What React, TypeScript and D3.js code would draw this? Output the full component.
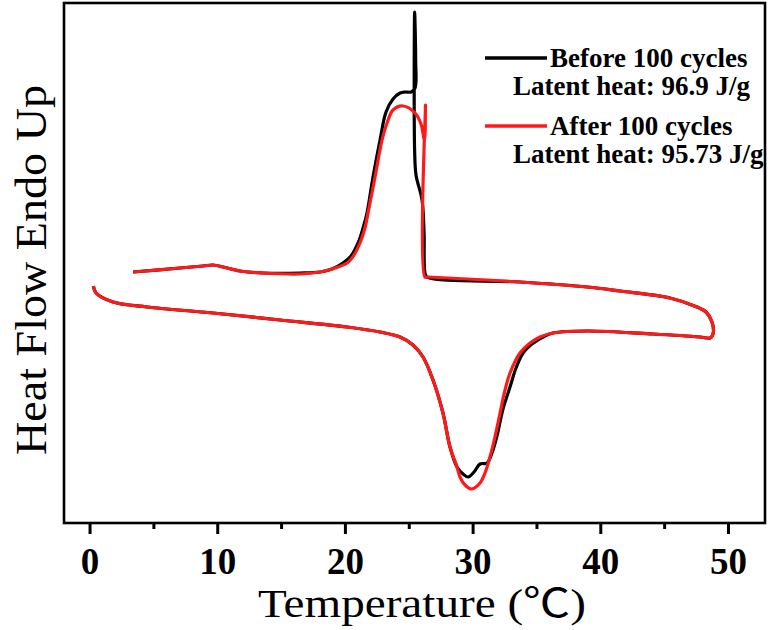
import { useEffect, useRef } from 'react'
import * as d3 from 'd3'

// [temperature (°C), heat flow (a.u.)], heating then cooling
const beforeCycles: [number, number][] = [
  [0.26, 2.37], [0.47, 2.3], [1.8, 2.21], [4.46, 2.16], [9.63, 2.1], [14.88, 2.03],
  [20.13, 1.96], [22.71, 1.91], [24.28, 1.86], [25.29, 1.78], [26.08, 1.66], [26.86, 1.43],
  [27.64, 1.1], [28.19, 0.76], [28.74, 0.56], [29.21, 0.49], [29.6, 0.46], [30.07, 0.51],
  [30.54, 0.59], [31.09, 0.6], [31.48, 0.7], [31.87, 0.87], [32.34, 1.14], [32.89, 1.36],
  [33.36, 1.55], [33.91, 1.7], [34.61, 1.79], [35.63, 1.87], [36.26, 1.9], [38.94, 1.92],
  [44.09, 1.89], [47.77, 1.86], [48.55, 1.85], [48.79, 1.89],
  [48.71, 2.01], [48.24, 2.11], [47.53, 2.16], [45.42, 2.25], [41.5, 2.32], [38.94, 2.36],
  [33.67, 2.41], [26.39, 2.46], [26.23, 2.5], [26.16, 2.9], [26.0, 3.23], [25.53, 3.48],
  [25.42, 3.73], [25.42, 5.11], [25.5, 4.63], [25.45, 4.35], [25.14, 4.31], [24.67, 4.31],
  [24.28, 4.3], [23.73, 4.24], [23.18, 4.11], [22.71, 3.83], [22.16, 3.46], [21.69, 3.1],
  [21.38, 2.95], [20.99, 2.8], [20.44, 2.67], [19.81, 2.6], [18.95, 2.54], [18.01, 2.51],
  [16.44, 2.5], [13.55, 2.5], [11.75, 2.52], [10.42, 2.56], [9.63, 2.58], [8.85, 2.57],
  [7.05, 2.55], [3.37, 2.51]
]

const afterCycles: [number, number][] = [
  [0.26, 2.37], [0.47, 2.3], [1.8, 2.21], [4.46, 2.16], [9.63, 2.1], [14.88, 2.03],
  [20.13, 1.96], [22.71, 1.91], [24.28, 1.86], [25.29, 1.78], [26.08, 1.66], [26.86, 1.43],
  [27.64, 1.1], [28.19, 0.76], [28.74, 0.56], [28.97, 0.46], [29.37, 0.38], [29.89, 0.34],
  [30.54, 0.4], [30.93, 0.5], [31.32, 0.66], [31.71, 0.86], [32.11, 1.1], [32.5, 1.33],
  [32.89, 1.5], [33.67, 1.7], [34.46, 1.8], [35.24, 1.86], [36.26, 1.9], [38.94, 1.92],
  [44.09, 1.89], [47.77, 1.86], [48.55, 1.85], [48.79, 1.89],
  [48.71, 2.01], [48.24, 2.11], [47.53, 2.16], [45.42, 2.25], [41.5, 2.32], [38.94, 2.36],
  [33.67, 2.41], [26.47, 2.46], [26.23, 2.46], [26.27, 4.18], [26.19, 3.83], [25.92, 3.99],
  [25.45, 4.1], [24.51, 4.17], [23.73, 4.13], [23.26, 4.0], [22.87, 3.83], [22.32, 3.46],
  [21.77, 3.1], [21.53, 2.95], [21.14, 2.8], [20.67, 2.68], [20.13, 2.6], [18.95, 2.54],
  [18.01, 2.51], [16.44, 2.49], [13.55, 2.5], [11.75, 2.52], [10.42, 2.56], [9.63, 2.58],
  [8.85, 2.57], [7.05, 2.55], [3.37, 2.51]
]

const majorTicks = [0, 10, 20, 30, 40, 50]
const minorTicks = [5, 15, 25, 35, 45]

const legendItems = [
  { name: 'Before 100 cycles', heat: 'Latent heat: 96.9 J/g', color: '#000000' },
  { name: 'After 100 cycles', heat: 'Latent heat: 95.73 J/g', color: '#ff1a1a' }
]

const W = 774
const H = 630
const serif = '"Liberation Serif", "Times New Roman", "Noto Sans CJK SC", serif'

export default function App() {
  const svgRef = useRef<SVGSVGElement>(null)

  useEffect(() => {
    if (!svgRef.current) return
    const svg = d3.select(svgRef.current)
    svg.selectAll('*').remove()

    const left = 64, right = 765, top = 3, bottom = 523

    const x = d3.scaleLinear().domain([-2.04, 52.86]).range([left, right])
    const y = d3.scaleLinear().domain([0, 5.2]).range([bottom, top])

    // frame
    svg.append('rect')
      .attr('x', left).attr('y', top)
      .attr('width', right - left).attr('height', bottom - top)
      .attr('fill', 'none').attr('stroke', '#000').attr('stroke-width', 2.6)

    // ticks
    svg.selectAll('.major')
      .data(majorTicks)
      .enter()
      .append('line')
      .attr('x1', d => x(d)).attr('x2', d => x(d))
      .attr('y1', bottom).attr('y2', bottom + 11)
      .attr('stroke', '#000').attr('stroke-width', 3)

    svg.selectAll('.minor')
      .data(minorTicks)
      .enter()
      .append('line')
      .attr('x1', d => x(d)).attr('x2', d => x(d))
      .attr('y1', bottom).attr('y2', bottom + 6)
      .attr('stroke', '#000').attr('stroke-width', 3)

    svg.selectAll('.tlabel')
      .data(majorTicks)
      .enter()
      .append('text')
      .attr('x', d => x(d)).attr('y', 574)
      .attr('text-anchor', 'middle')
      .style('font-family', serif)
      .style('font-weight', 'bold')
      .style('font-size', '37px')
      .text(d => d)

    // axis titles
    svg.append('text')
      .attr('x', 258).attr('y', 617)
      .attr('textLength', 328)
      .attr('lengthAdjust', 'spacingAndGlyphs')
      .style('font-family', serif)
      .style('font-size', '40px')
      .text('Temperature (℃)')

    svg.append('text')
      .attr('transform', `translate(46, 455) rotate(-90)`)
      .attr('textLength', 370)
      .attr('lengthAdjust', 'spacingAndGlyphs')
      .style('font-family', serif)
      .style('font-size', '45px')
      .text('Heat Flow Endo Up')

    // curves
    const line = d3.line<[number, number]>()
      .x(d => x(d[0]))
      .y(d => y(d[1]))
      .curve(d3.curveCatmullRom.alpha(0.5))

    svg.append('path')
      .datum(beforeCycles)
      .attr('d', line)
      .attr('fill', 'none')
      .attr('stroke', legendItems[0].color)
      .attr('stroke-width', 3.2)
      .attr('stroke-linejoin', 'round')

    svg.append('path')
      .datum(afterCycles)
      .attr('d', line)
      .attr('fill', 'none')
      .attr('stroke', legendItems[1].color)
      .attr('stroke-width', 3.2)
      .attr('stroke-linejoin', 'round')

    // legend
    const lg = svg.append('g')
    legendItems.forEach((item, i) => {
      const ly = 58 + i * 68
      lg.append('line')
        .attr('x1', 485).attr('x2', 547)
        .attr('y1', ly).attr('y2', ly)
        .attr('stroke', item.color).attr('stroke-width', 3.5)
      lg.append('text')
        .attr('x', 550).attr('y', ly + 9)
        .style('font-family', serif)
        .style('font-weight', 'bold')
        .style('font-size', '27px')
        .text(item.name)
      lg.append('text')
        .attr('x', 513).attr('y', ly + 37)
        .style('font-family', serif)
        .style('font-weight', 'bold')
        .style('font-size', '27px')
        .text(item.heat)
    })
  }, [])

  return (
    <svg
      ref={svgRef}
      width={W}
      height={H}
      style={{ position: 'absolute', left: 0, top: 0, background: '#fff' }}
    />
  )
}
